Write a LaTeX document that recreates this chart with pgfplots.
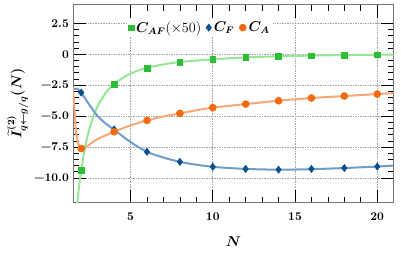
\documentclass[border=0pt]{standalone}
\usepackage{pgfplots}
\pgfplotsset{compat=1.18}
\usepackage{amsmath,bm}
\definecolor{gmark}{RGB}{45,190,55}
\definecolor{gline}{RGB}{150,230,150}
\definecolor{bmark}{RGB}{10,80,140}
\definecolor{bline}{RGB}{110,158,200}
\definecolor{omark}{RGB}{242,105,15}
\definecolor{oline}{RGB}{247,168,120}
\begin{document}
\begin{tikzpicture}
\useasboundingbox (-61.7pt,-42.5pt) rectangle (277.2pt,171.3pt);
\begin{axis}[
  scale only axis,
  width=271pt, height=167.3pt,
  xmin=1.5, xmax=21, ymin=-12, ymax=4,
  xtick={5,10,15,20},
  xticklabels={5,10,15,20},
  minor x tick num=4,
  ytick={2.5,0,-2.5,-5,-7.5,-10},
  yticklabels={2.5,0,−2.5,−5.0,−7.5,−10.0},
  minor y tick num=4,
  tick align=inside,
  major tick length=11pt,
  minor tick length=5pt,
  tick style={black, line width=0.5pt},
  axis line style={black!55, line width=0.6pt},
  grid=major,
  major grid style={densely dotted, black!35, line width=0.5pt},
  /pgf/number format/assume math mode=true,
  tick label style={font=\bfseries},
  xticklabel style={yshift=-5pt},
  xlabel={$\bm{N}$},
  ylabel={$\bm{\widetilde{I}^{(2)}_{q\leftarrow g/q}(N)}$},
  xlabel style={font=\large, yshift=-7pt},
  ylabel style={font=\large, yshift=-2pt},
  legend style={at={(0.625,0.935)}, anchor=north east, draw=none, fill=white,
    legend columns=3, column sep=0pt, inner sep=1pt, font=\fontsize{11.5}{13}\selectfont,
    /tikz/every even column/.append style={column sep=2pt}},
  legend cell align=left,
  clip=true,
]
% fitted curves
\addplot[gline, line width=1.7pt, smooth, forget plot] coordinates {
(1.76,-12.08) (1.8,-11.55) (1.9,-10.37) (2.0,-9.37) (2.2,-7.76) (2.4,-6.53)
(2.6,-5.57) (2.8,-4.81) (3.0,-4.20) (3.5,-3.11) (4,-2.40) (5,-1.56) (6,-1.10)
(7,-0.83) (8,-0.63) (10,-0.41) (12,-0.26) (14,-0.17) (16,-0.11) (18,-0.07) (20,-0.04) (21,-0.03)};
\addplot[bline, line width=1.7pt, smooth, forget plot] coordinates {
(1.5,-2.85) (1.7,-2.78) (1.85,-2.88) (2,-3.1) (2.5,-4.1) (3,-5.0) (3.5,-5.62) (4,-6.1)
(5,-7.1) (6,-7.89) (7,-8.35) (8,-8.7) (9,-8.93) (10,-9.1) (11,-9.2) (12,-9.27)
(13,-9.31) (14,-9.33) (15,-9.32) (16,-9.29) (17,-9.25) (18,-9.2) (19,-9.14) (20,-9.08) (21,-9.0)};
\addplot[oline, line width=1.7pt, smooth, forget plot] coordinates {
(1.47,-2.6) (1.55,-3.6) (1.6,-4.6) (1.65,-5.7) (1.7,-6.4) (1.8,-7.15) (1.9,-7.5)
(2.0,-7.62) (2.1,-7.64) (2.3,-7.5) (2.6,-7.2) (3,-6.85) (3.5,-6.55) (4,-6.27)
(5,-5.75) (6,-5.35) (7,-5.03) (8,-4.78) (9,-4.53) (10,-4.32) (12,-4.03) (14,-3.76)
(16,-3.54) (18,-3.38) (20,-3.22) (21,-3.15)};
% data points
\addplot[only marks, mark=square*, mark size=2.4pt, color=gmark] coordinates {
(2,-9.4) (4,-2.43) (6,-1.14) (8,-0.65) (10,-0.41) (12,-0.24) (14,-0.16) (16,-0.11) (18,-0.08) (20,-0.03)};
\addlegendentry{$\bm{C_{AF}}(\times 50)$}
\addplot[only marks, mark=diamond*, mark size=3.1pt, color=bmark] coordinates {
(2,-3.1) (4,-6.08) (6,-7.89) (8,-8.7) (10,-9.1) (12,-9.27) (14,-9.33) (16,-9.27) (18,-9.2) (20,-9.08)};
\addlegendentry{$\bm{C_F}$}
\addplot[only marks, mark=*, mark size=3pt, color=omark] coordinates {
(2,-7.62) (4,-6.27) (6,-5.35) (8,-4.78) (10,-4.32) (12,-4.03) (14,-3.76) (16,-3.54) (18,-3.38) (20,-3.22)};
\addlegendentry{$\bm{C_A}$}
\end{axis}
\end{tikzpicture}
\end{document}
